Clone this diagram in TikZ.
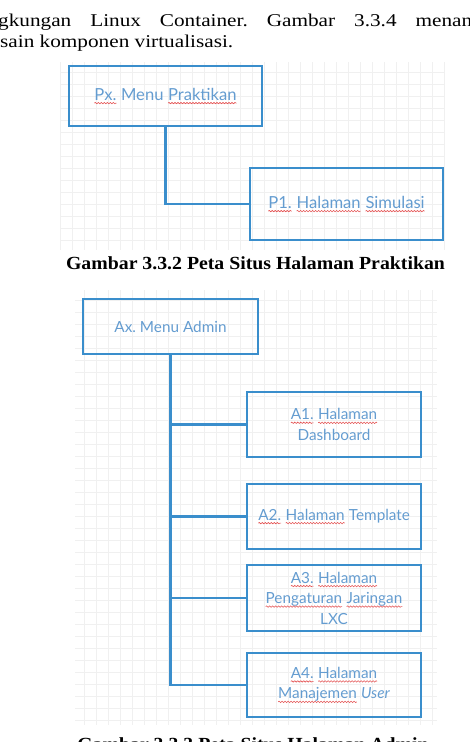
\documentclass[tikz,border=0pt]{standalone}
\usepackage{fontspec}
\usepackage{xcolor}
\usepackage{tikz}
\usetikzlibrary{positioning,decorations.pathmorphing}
\setmainfont{Liberation Serif}
\newfontfamily\teksbody[FakeStretch=1.18]{Liberation Serif}
\newfontfamily\tekscap[FakeStretch=1.07]{Liberation Serif}
\newfontfamily\lato{Lato}
\definecolor{boxblue}{RGB}{58,142,204}
\definecolor{txtblue}{RGB}{100,156,208}
\definecolor{sqred}{RGB}{228,84,84}
\definecolor{gridgray}{RGB}{240,240,240}
\newcommand{\sq}[1]{\tikz[baseline=(w.base)]{\node[draw=none, inner sep=0pt, outer sep=0pt,
    minimum width=0pt, minimum height=0pt, anchor=center] (w) {#1};
  \draw[sqred, line width=0.6pt, decorate, decoration={snake, amplitude=0.7pt, segment length=3pt}]
    ([yshift=-3pt]w.base west) -- ([yshift=-3pt]w.base east);}}
\tikzset{
  halaman/.style={draw=boxblue, line width=2.4pt, text=txtblue, align=center,
    font=\lato\fontsize{15.3}{20.5}\selectfont, inner sep=2pt},
  besar/.style={font=\lato\fontsize{16.6}{20.5}\selectfont},
  garis/.style={draw=boxblue, line width=2.4pt},
  kisi/.style={gridgray, line width=0.6pt, step=12pt},
  judul/.style={anchor=base, font=\tekscap\bfseries\fontsize{18.5}{22}\selectfont}
}

\begin{document}
\frenchspacing
\begin{tikzpicture}[x=1pt,y=-1pt]
    \useasboundingbox (0,0) rectangle (470,742);

    % Body text
    \node[anchor=base west, inner sep=0, font=\teksbody\fontsize{18}{21}\selectfont] (teks1) at (-2,26)
        {\makebox[474pt][s]{gkungan Linux Container. Gambar 3.3.4 menan}};
    \node[anchor=base west, inner sep=0, font=\teksbody\fontsize{18}{21}\selectfont] (teks2) at (0,47)
        {sain komponen virtualisasi.};

    % Grids
    \draw[kisi] (60,62) grid (445,250);
    \draw[kisi] (75,290) grid (437,725);

    % Praktikan
    \node[halaman, besar, minimum width=193, minimum height=60] (px) at (165.5,96) {\sq{Px.} Menu \sq{Praktikan}};
    \node[halaman, besar, minimum width=193, minimum height=72] (p1) at (346.5,204) {\sq{P1.} \sq{Halaman} \sq{Simulasi}};
    \draw[garis] (px.south) |- (p1.west);

    \node[judul] (cap1) at (255.5,269) {Gambar 3.3.2 Peta Situs Halaman Praktikan};

    % Admin
    \node[halaman, minimum width=175, minimum height=55] (ax) at (170.5,326.5) {Ax. Menu Admin};
    \node[halaman, minimum width=174, minimum height=65] (a1) at (334,424.5) {\sq{A1.} \sq{Halaman}\\Dashboard};
    \node[halaman, minimum width=174, minimum height=65] (a2) at (334,516.5) {\sq{A2.} \sq{Halaman} Template};
    \node[halaman, minimum width=174, minimum height=66] (a3) at (334,598) {\sq{A3.} \sq{Halaman}\\\sq{Pengaturan} \sq{Jaringan}\\LXC};
    \node[halaman, minimum width=174, minimum height=64] (a4) at (334,685) {\sq{A4.} \sq{Halaman}\\\sq{Manajemen} \textit{User}};
    \foreach \n in {a1,a2,a3,a4} \draw[garis] (ax.south) |- (\n.west);

    \node[judul] (cap2) at (253,750) {Gambar 3.3.3 Peta Situs Halaman Admin};
\end{tikzpicture}
\end{document}
